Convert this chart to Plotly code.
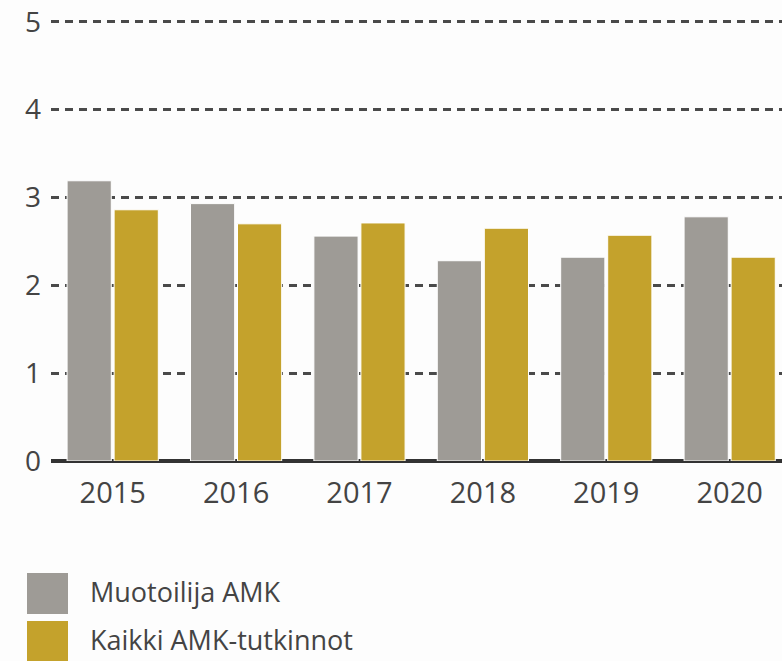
import plotly.graph_objects as go

years = ["2015", "2016", "2017", "2018", "2019", "2020"]
series_names = ["Muotoilija AMK", "Kaikki AMK-tutkinnot"]
muotoilija = [3.19, 2.93, 2.56, 2.28, 2.32, 2.78]
kaikki = [2.86, 2.70, 2.71, 2.65, 2.57, 2.32]
y_ticks = [0, 1, 2, 3, 4, 5]

colors = ["#9e9b96", "#c4a22c"]
FONT = "Open Sans"
W, H = 782, 661
ML, MR, MT, MB = 51, 0, 13, 661 - 461

fig = go.Figure()
for name, vals, col in zip(series_names, [muotoilija, kaikki], colors):
    fig.add_trace(go.Bar(
        x=years, y=vals, name=name,
        marker=dict(color=col, line=dict(color="white", width=1)),
        showlegend=False,
    ))

fig.update_layout(
    width=W, height=H,
    margin=dict(l=ML, r=MR, t=MT, b=MB),
    paper_bgcolor="#fdfdfd", plot_bgcolor="#fdfdfd",
    barmode="group", bargap=0.238, bargroupgap=0.06,
    font=dict(family=FONT, color="#444444"),
)
fig.update_xaxes(
    type="category", range=[-0.5, 5.424], automargin=False,
    showgrid=False, showline=False, zeroline=False,
    tickfont=dict(size=29, color="#444444"),
    ticks="", ticklabelstandoff=12,
)
fig.update_yaxes(
    range=[0, 5.1], tickvals=y_ticks, ticktext=[str(v) for v in y_ticks],
    automargin=False,
    showgrid=True, gridcolor="#4a4a4a", gridwidth=2.5, griddash="8px,6px",
    zeroline=True, zerolinecolor="#333333", zerolinewidth=3.5,
    showline=False, ticks="",
    tickfont=dict(size=28, color="#444444"),
    ticklabelstandoff=9, ticklabeloverflow="allow",
)

# manual legend (large swatches) in paper coordinates derived from page pixels
pw = W - ML - MR
ph = H - MT - MB
def px_x(x):
    return (x - ML) / pw
def px_y(y):
    return (H - MB - y) / ph

legend_rows = [(573, 614), (621, 661)]
for (y0, y1), name, col in zip(legend_rows, series_names, colors):
    fig.add_shape(type="rect", xref="paper", yref="paper",
                  x0=px_x(27), x1=px_x(68), y0=px_y(y1), y1=px_y(y0),
                  fillcolor=col, line=dict(width=0))
    fig.add_annotation(xref="paper", yref="paper", x=px_x(88), y=px_y((y0 + y1) / 2 - 2),
                       text=name, showarrow=False, xanchor="left", yanchor="middle",
                       font=dict(size=27, color="#444444", family=FONT))

fig.write_html("out.html", config={"displayModeBar": False},
               post_script="document.body.style.margin='0';")
